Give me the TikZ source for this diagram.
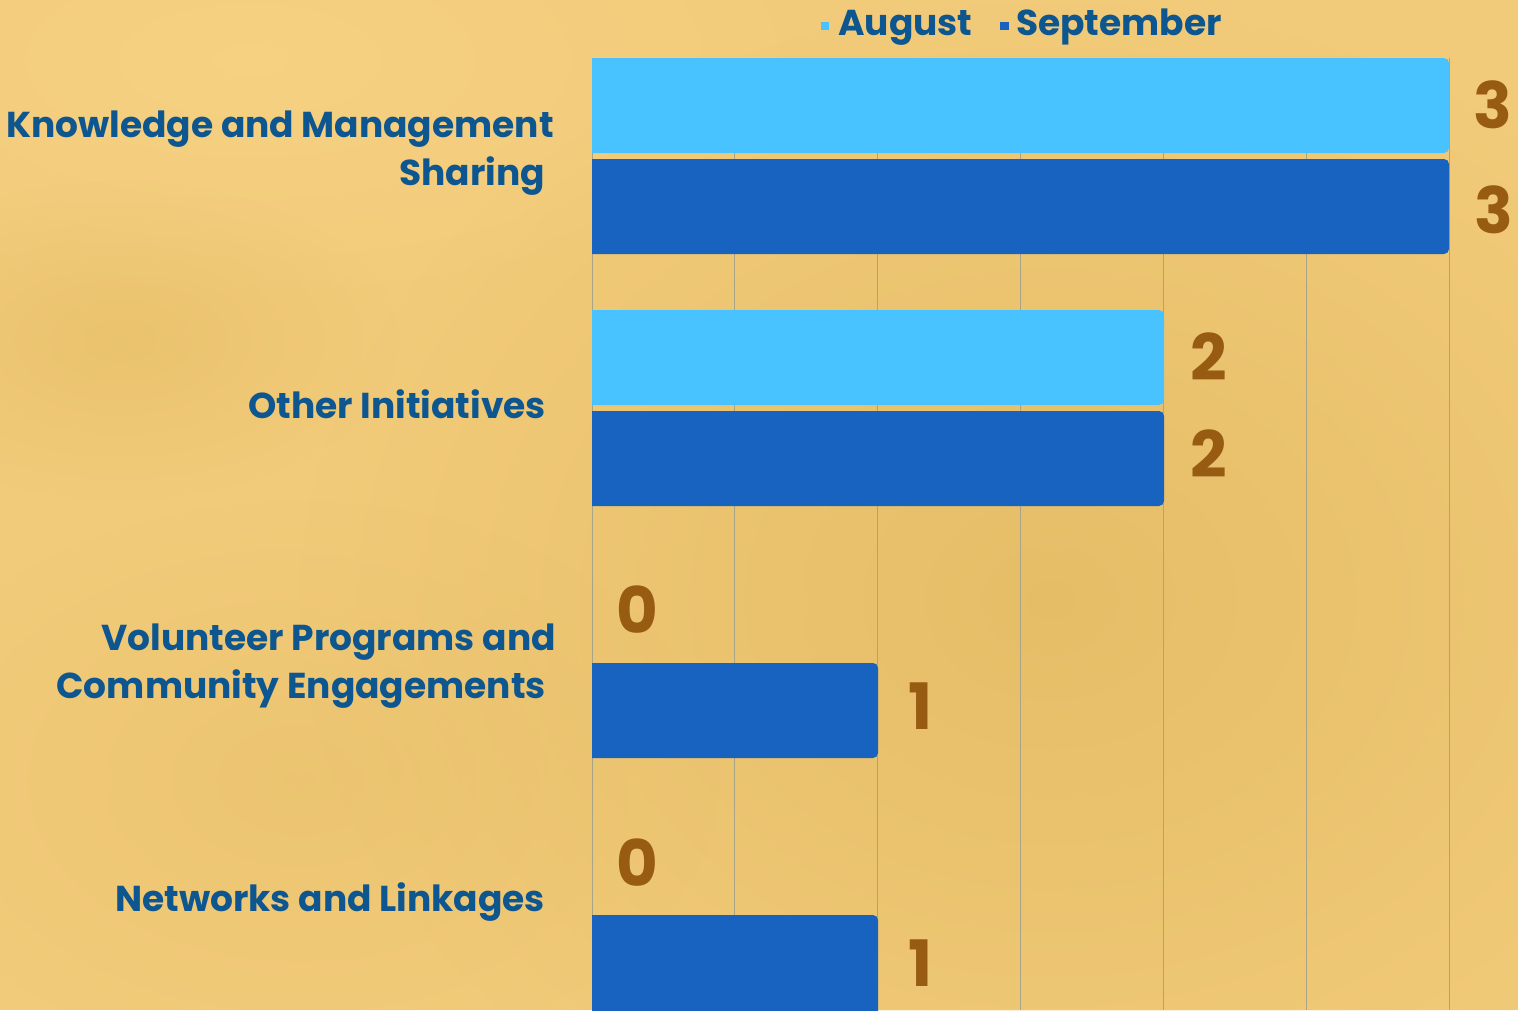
\documentclass[tikz,border=0pt]{standalone}
\usepackage{fontspec}
\setmainfont{Poppins}
\usetikzlibrary{fadings}
\definecolor{bgbase}{HTML}{F2CB7A}
\definecolor{bgdark}{HTML}{E2B961}
\definecolor{bglight}{HTML}{F7D384}
\definecolor{augc}{HTML}{49C3FF}
\definecolor{sepc}{HTML}{1763BF}
\definecolor{labc}{HTML}{0D5690}
\definecolor{valc}{HTML}{975B12}
\definecolor{gridc}{HTML}{A8A488}
\tikzfading[name=softfade, inner color=transparent!0, outer color=transparent!100]
\tikzset{
  catlabel/.style={font=\bfseries\fontsize{36}{40}\selectfont, text=labc, inner sep=0pt, anchor=base east},
  leglabel/.style={font=\bfseries\fontsize{36}{40}\selectfont, text=labc, inner sep=0pt, anchor=base west},
  vallabel/.style={font=\bfseries\fontsize{64}{70}\selectfont, text=valc, inner sep=0pt, anchor=base west},
  augbar/.style={fill=augc, rounded corners=5pt},
  sepbar/.style={fill=sepc, rounded corners=5pt},
  gridline/.style={draw=gridc, line width=0.8pt},
  blob/.style={fill=#1, path fading=softfade},
}
\begin{document}
\begin{tikzpicture}[x=1pt,y=-1pt]
\useasboundingbox (0,0) rectangle (1518,1010);
\clip (0,0) rectangle (1518,1010);
% background
\fill[bgbase] (0,0) rectangle (1518,1010);
\fill[blob=bglight, opacity=0.8] (250,60) ellipse (600 and 260);
\fill[blob=bgdark, opacity=0.75] (1050,600) ellipse (750 and 600);
\fill[blob=bgdark, opacity=0.45] (120,340) ellipse (280 and 160);
\fill[blob=bgdark, opacity=0.35] (300,780) ellipse (420 and 280);
% grid
\foreach \k in {0,...,6} {
  \draw[gridline] ({592+\k*142.83},58) -- ({592+\k*142.83},1010);
}
% bars
\begin{scope}
\clip (592,0) rectangle (1518,1010);
\fill[augbar] (580,58) rectangle (1449,153);
\fill[sepbar] (580,159) rectangle (1449,254);
\fill[augbar] (580,310) rectangle (1164,405);
\fill[sepbar] (580,411) rectangle (1164,506);
\fill[sepbar] (580,663) rectangle (878,758);
\fill[sepbar] (580,915) rectangle (878,1030);
\end{scope}
% value labels
\node[vallabel] (v1a) at (1473,128) {3};
\node[vallabel] (v1s) at (1474,233) {3};
\node[vallabel] (v2a) at (1190,380) {2};
\node[vallabel] (v2s) at (1190,477) {2};
\node[vallabel] (v3a) at (616,633) {0};
\node[vallabel] (v3s) at (908,729) {1};
\node[vallabel] (v4a) at (616,886) {0};
\node[vallabel] (v4s) at (908,986) {1};
% category labels
\node[catlabel] (c1a) at (554,137) {Knowledge and Management};
\node[catlabel] (c1b) at (545,185) {Sharing};
\node[catlabel] (c2) at (546,418) {Other Initiatives};
\node[catlabel] (c3a) at (556,650) {Volunteer Programs and};
\node[catlabel] (c3b) at (546,698) {Community Engagements};
\node[catlabel] (c4) at (545,911) {Networks and Linkages};
% legend
\fill[augc] (820.7,21.7) rectangle (829.3,30.3);
\node[leglabel] (lega) at (838,35) {August};
\fill[sepc] (1000.2,21.7) rectangle (1008.8,30.3);
\node[leglabel] (legs) at (1016,35) {September};
\end{tikzpicture}
\end{document}
